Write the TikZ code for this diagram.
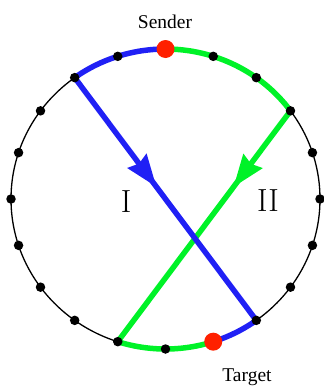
\documentclass[tikz,border=0pt]{standalone}
\usepackage{fontspec}
\newfontfamily\lbl{Liberation Serif}
\usetikzlibrary{arrows.meta,decorations.markings}
\definecolor{cblue}{RGB}{32,32,245}
\definecolor{cgreen}{RGB}{0,242,40}
\definecolor{cred}{RGB}{255,32,0}
\tikzset{
  ring/.style={black, line width=1.3pt},
  dot/.style={circle, fill=black, inner sep=0pt, minimum size=9.5pt},
  reddot/.style={circle, fill=cred, inner sep=0pt, minimum size=18pt},
  pathline/.style={line width=5.5pt},
  midarrow/.style={postaction={decorate}, decoration={markings, mark=at position #1 with {\arrow{Stealth[length=32pt,width=23pt,inset=3pt]}}}},
  toplabel/.style={font=\lbl\fontsize{19.5}{22}\selectfont, anchor=base},
  numlabel/.style={font=\fontsize{32}{36}\selectfont, anchor=base}
}
\begin{document}
\begin{tikzpicture}[x=1pt,y=1pt]
\useasboundingbox (0,0) rectangle (324,-386);
\coordinate (c) at (165.5,-199);
\draw[ring] (c) ellipse [x radius=154.5, y radius=150];
\foreach \k in {0,...,19}{
  \coordinate (d\k) at ({165.5+154.5*cos(18*\k)},{-199+150*sin(18*\k)});
}
% arcs
\draw[pathline, cblue] (d5) arc[start angle=90, end angle=126, x radius=154.5, y radius=150];
\draw[pathline, cgreen] (d5) arc[start angle=90, end angle=36, x radius=154.5, y radius=150];
\draw[pathline, cgreen] (d14) arc[start angle=252, end angle=288, x radius=154.5, y radius=150];
\draw[pathline, cblue] (d17) arc[start angle=306, end angle=288, x radius=154.5, y radius=150];
% chords
\draw[pathline, cgreen, midarrow=0.33] (d2) -- (d14);
\draw[pathline, cblue, midarrow=0.45] (d7) -- (d17);
% dots
\foreach \k in {0,1,2,3,4,6,7,8,9,10,11,12,13,14,15,17,18,19}{
  \node[dot] (n\k) at (d\k) {};
}
\node[reddot] (sender) at (d5) {};
\node[reddot] (target) at (d16) {};
% labels
\node[toplabel] (ls) at (165,-28) {Sender};
\node[toplabel] (lt) at (247,-381) {Target};
\node[numlabel] (l1) at (126,-212) {I};
\node[numlabel] (l2) at (268,-211) {II};
\end{tikzpicture}
\end{document}
